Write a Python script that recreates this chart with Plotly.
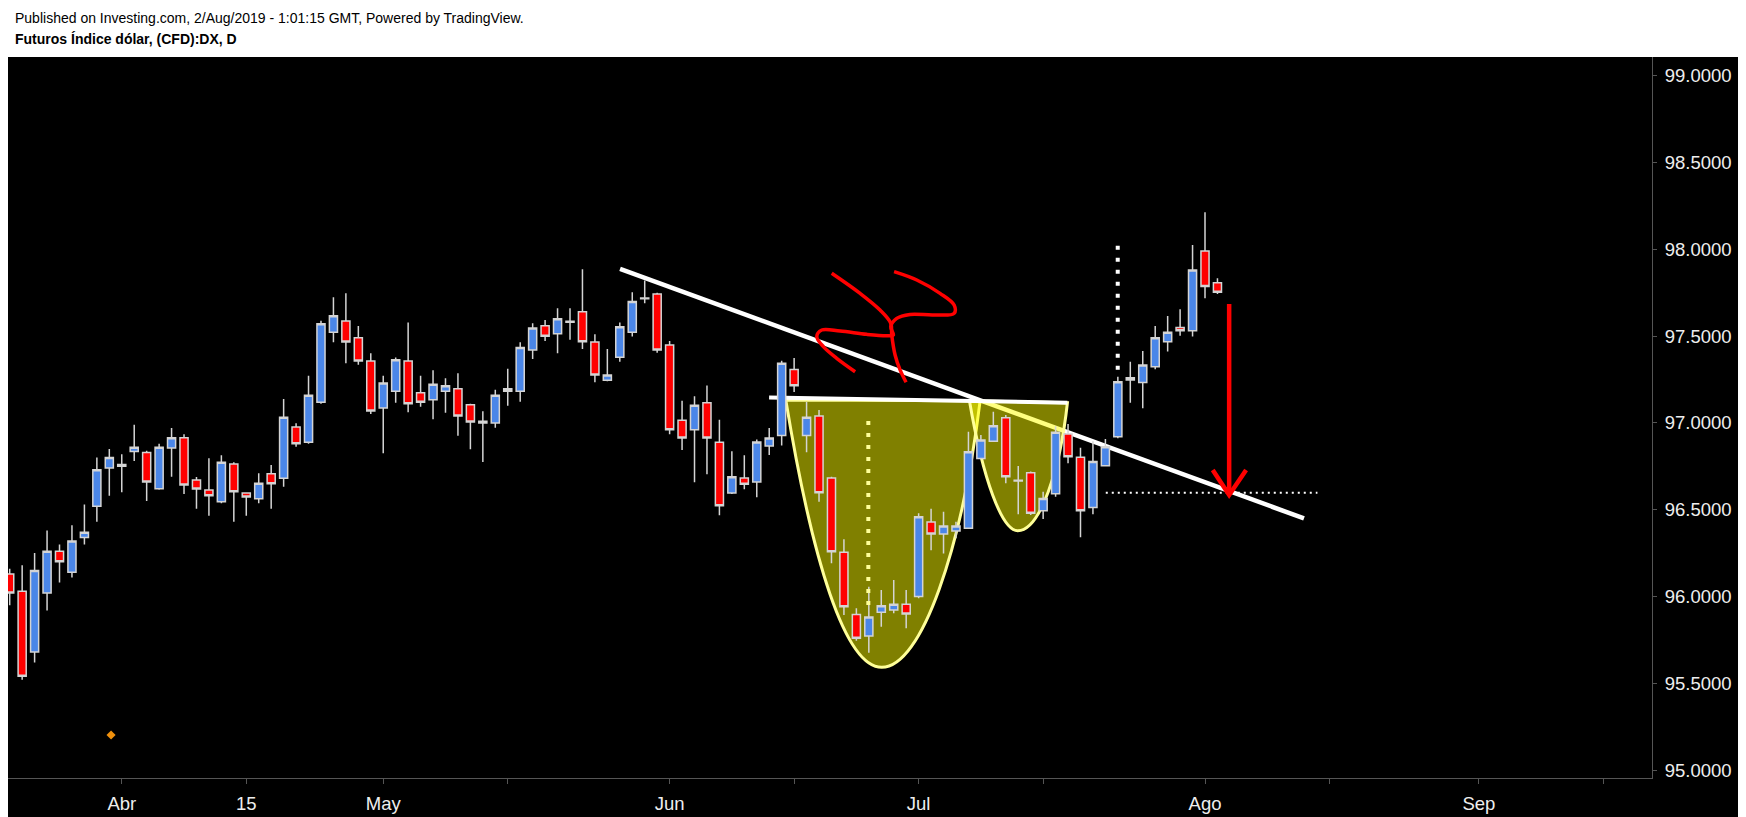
import math
import pandas as pd
import plotly.graph_objects as go

# ---------------- data ----------------
HOLIDAYS = ["2019-04-19"]
dates = [d.strftime("%Y-%m-%d") for d in pd.bdate_range("2019-03-19", "2019-08-02")
         if d.strftime("%Y-%m-%d") not in HOLIDAYS]

open_ = [96.13, 96.03, 95.68, 96.02, 96.26, 96.14, 96.34, 96.52, 96.74, 96.75,
         96.835, 96.83, 96.62, 96.855, 96.915, 96.671, 96.613, 96.546, 96.763, 96.596,
         96.563, 96.707, 96.681, 96.976, 96.888, 97.119, 97.522, 97.587, 97.491, 97.357,
         97.086, 97.182, 97.357, 97.174, 97.134, 97.182, 97.197, 97.105, 97.00, 96.999,
         97.182, 97.182, 97.42, 97.56, 97.514, 97.58, 97.64, 97.466, 97.245, 97.378,
         97.522, 97.715, 97.743, 97.449, 97.015, 96.961, 97.116, 96.888, 96.596, 96.683,
         96.66, 96.867, 96.927, 97.308, 96.927, 97.04, 96.683, 96.255, 95.897, 95.772,
         95.909, 95.922, 95.955, 96.0, 96.429, 96.36, 96.377, 96.393, 96.795, 96.895,
         97.03, 96.665, 96.713, 96.494, 96.592, 96.936, 96.802, 96.512, 96.753, 96.92,
         97.247, 97.232, 97.324, 97.468, 97.55, 97.531, 97.99, 97.808]
high = [96.16, 96.18, 96.25, 96.38, 96.30, 96.41, 96.53, 96.80, 96.85, 96.82,
        96.99, 96.84, 96.88, 96.97, 96.934, 96.688, 96.796, 96.813, 96.773, 96.60,
        96.71, 96.757, 97.138, 96.998, 97.272, 97.589, 97.724, 97.747, 97.558, 97.401,
        97.272, 97.376, 97.579, 97.272, 97.303, 97.257, 97.286, 97.11, 97.067, 97.191,
        97.312, 97.464, 97.574, 97.593, 97.66, 97.66, 97.885, 97.51, 97.426, 97.579,
        97.752, 97.82, 97.75, 97.472, 97.128, 97.153, 97.216, 97.018, 96.836, 96.813,
        96.905, 96.97, 97.358, 97.374, 97.12, 97.074, 96.69, 96.33, 95.932, 96.056,
        96.037, 96.095, 96.037, 96.479, 96.505, 96.488, 96.431, 96.949, 96.93, 97.064,
        97.046, 96.752, 96.72, 96.603, 96.98, 96.994, 96.857, 96.895, 96.907, 97.266,
        97.352, 97.414, 97.558, 97.616, 97.654, 98.025, 98.213, 97.833]
low = [95.95, 95.52, 95.62, 95.92, 96.08, 96.11, 96.30, 96.43, 96.58, 96.60,
       96.78, 96.55, 96.615, 96.69, 96.59, 96.506, 96.465, 96.537, 96.431, 96.465,
       96.537, 96.506, 96.632, 96.863, 96.88, 97.11, 97.464, 97.343, 97.335, 97.051,
       96.825, 97.116, 97.061, 97.093, 97.021, 97.059, 96.926, 96.848, 96.775, 96.972,
       97.099, 97.122, 97.368, 97.472, 97.401, 97.479, 97.426, 97.234, 97.24, 97.352,
       97.497, 97.689, 97.404, 96.934, 96.844, 96.658, 96.704, 96.468, 96.59, 96.618,
       96.571, 96.815, 96.87, 97.178, 96.831, 96.546, 96.191, 95.893, 95.745, 95.676,
       95.826, 95.903, 95.817, 95.99, 96.267, 96.248, 96.335, 96.39, 96.792, 96.89,
       96.652, 96.474, 96.47, 96.446, 96.575, 96.767, 96.342, 96.474, 96.75, 96.911,
       97.116, 97.084, 97.309, 97.411, 97.502, 97.497, 97.718, 97.743]
close = [96.02, 95.54, 96.15, 96.26, 96.20, 96.32, 96.37, 96.73, 96.80, 96.76,
         96.86, 96.66, 96.86, 96.915, 96.642, 96.619, 96.581, 96.773, 96.604, 96.573,
         96.652, 96.649, 97.032, 96.88, 97.159, 97.571, 97.617, 97.466, 97.357, 97.069,
         97.23, 97.364, 97.11, 97.119, 97.222, 97.214, 97.04, 97.005, 97.01, 97.159,
         97.197, 97.435, 97.547, 97.499, 97.60, 97.585, 97.468, 97.276, 97.276, 97.554,
         97.70, 97.72, 97.42, 96.961, 96.913, 97.101, 96.913, 96.523, 96.69, 96.646,
         96.89, 96.913, 97.343, 97.214, 97.032, 96.598, 96.258, 95.941, 95.759, 95.882,
         95.947, 95.955, 95.899, 96.459, 96.36, 96.406, 96.406, 96.834, 96.901, 96.983,
         96.69, 96.67, 96.479, 96.565, 96.946, 96.805, 96.494, 96.777, 96.863, 97.237,
         97.26, 97.333, 97.491, 97.522, 97.531, 97.881, 97.785, 97.752]

TICK_DATES = ["2019-04-01", "2019-04-15", "2019-05-01", "2019-05-15", "2019-06-03", "2019-06-17",
              "2019-07-01", "2019-07-15", "2019-08-01", "2019-08-15", "2019-09-02", "2019-09-16"]
TICK_TEXT = ["Abr", "15", "May", "", "Jun", "", "Jul", "", "Ago", "", "Sep", ""]
Y_TICKS = [95.0, 95.5, 96.0, 96.5, 97.0, 97.5, 98.0, 98.5, 99.0]

TITLE_1 = "Published on Investing.com, 2/Aug/2019 - 1:01:15 GMT, Powered by TradingView."
TITLE_2 = "Futuros Índice dólar, (CFD):DX, D"

# drawings (bar index, price)
X_RANGE = [-0.137, 131.9]
Y_RANGE = [94.9545, 99.1077]
TREND = [(49.02, 97.887), (103.95, 96.45)]
NECK = [(60.99, 97.147), (84.95, 97.116)]
BIG_CUP = [(62.33, 97.132), (64.44, 96.21), (67.09, 95.592), (70.04, 95.592),
           (73.25, 95.592), (76.49, 96.28), (77.94, 97.128)]
SMALL_CUP = [(77.08, 97.128), (78.18, 96.671), (79.70, 96.379), (80.96, 96.379),
             (82.75, 96.379), (84.36, 96.729), (84.95, 97.116)]
CUP_DOTS = [(68.96, 95.951), (68.96, 97.055)]
TOP_DOTS = [(88.99, 97.266), (88.99, 98.021)]
H_DOTS = [(88.03, 96.598), (105.03, 96.598)]
ARROW = [(97.94, 97.685), (97.94, 96.59)]
ARROW_HEAD = [(96.62, 96.729), (97.94, 96.585), (99.3, 96.729)]
SQUIG_A = [(66.02, 97.862), (68.30, 97.746), (69.90, 97.650), (70.76, 97.574), (70.84, 97.506),
           (71.11, 97.391), (71.51, 97.305), (71.99, 97.234)]
SQUIG_B = [(71.03, 97.871), (72.85, 97.823), (74.72, 97.746), (75.85, 97.679), (75.85, 97.631),
           (74.18, 97.622), (72.31, 97.625), (71.24, 97.602), (70.76, 97.554), (70.97, 97.506),
           (70.44, 97.502), (68.83, 97.510), (66.69, 97.529), (65.22, 97.535), (64.82, 97.497),
           (65.35, 97.439), (66.42, 97.372), (67.90, 97.295)]
MARKER = (8.14, 95.202)

# ---------------- helpers ----------------
axis_days = [d for d in pd.bdate_range("2019-03-18", "2019-10-11")
             if d.strftime("%Y-%m-%d") not in HOLIDAYS]


def t(i, sep=" "):
    k = math.floor(i)
    d = axis_days[k + 1] + pd.Timedelta(days=i - k)
    return d.strftime("%Y-%m-%d") + sep + d.strftime("%H:%M:%S")


def cup_path(p):
    s = "M {},{} ".format(t(p[0][0], "_"), p[0][1])
    s += "C {},{} {},{} {},{} ".format(t(p[1][0], "_"), p[1][1], t(p[2][0], "_"), p[2][1], t(p[3][0], "_"), p[3][1])
    s += "C {},{} {},{} {},{} ".format(t(p[4][0], "_"), p[4][1], t(p[5][0], "_"), p[5][1], t(p[6][0], "_"), p[6][1])
    s += "Z"
    return s


FONT = "Arial, 'Liberation Sans', sans-serif"
AX_COLOR = "#555555"
LBL_COLOR = "#eeeeee"

# The page body has an 8px default margin; the figure is sized so that it
# ends flush with the 1746x817 window.
FIG_W, FIG_H = 1738, 809
M_L, M_R, M_T, M_B = 0, 94, 49, 39
PLOT_W = FIG_W - M_L - M_R
PLOT_H = FIG_H - M_T - M_B

fig = go.Figure()
fig.add_trace(go.Candlestick(
    x=dates, open=open_, high=high, low=low, close=close,
    increasing=dict(fillcolor="#4a86e8", line=dict(color="#d4d4d4", width=1.5)),
    decreasing=dict(fillcolor="#ff0000", line=dict(color="#d4d4d4", width=1.5)),
    whiskerwidth=0, hoverinfo="skip", showlegend=False))

for sq in (SQUIG_A, SQUIG_B):
    fig.add_trace(go.Scatter(x=[t(a) for a, _ in sq], y=[b for _, b in sq], mode="lines",
                             line=dict(color="#ff0000", width=3.5, shape="spline", smoothing=1.0),
                             hoverinfo="skip", showlegend=False))

fig.add_trace(go.Scatter(x=[t(MARKER[0])], y=[MARKER[1]], mode="markers",
                         marker=dict(symbol="diamond", size=7, color="#f0900c"),
                         hoverinfo="skip", showlegend=False))

shapes = [
    dict(type="rect", xref="paper", yref="paper", x0=0, x1=(FIG_W - 8 - M_L) / PLOT_W, y0=-M_B / PLOT_H, y1=1,
         fillcolor="black", line=dict(width=0), layer="below"),
    dict(type="line", xref="x", yref="y", x0=t(TREND[0][0]), y0=TREND[0][1], x1=t(TREND[1][0]), y1=TREND[1][1],
         line=dict(color="white", width=4.5), layer="below"),
    dict(type="path", xref="x", yref="y", path=cup_path(BIG_CUP), fillcolor="rgba(255,255,0,0.5)",
         line=dict(color="#ffff99", width=3), layer="below"),
    dict(type="path", xref="x", yref="y", path=cup_path(SMALL_CUP), fillcolor="rgba(255,255,0,0.5)",
         line=dict(color="#ffff99", width=3), layer="below"),
    dict(type="line", xref="x", yref="y", x0=t(NECK[0][0]), y0=NECK[0][1], x1=t(NECK[1][0]), y1=NECK[1][1],
         line=dict(color="white", width=4), layer="below"),
    dict(type="line", xref="x", yref="y", x0=t(CUP_DOTS[0][0]), y0=CUP_DOTS[0][1], x1=t(CUP_DOTS[1][0]), y1=CUP_DOTS[1][1],
         line=dict(color="#ffff99", width=4, dash="4px,8px"), layer="above"),
    dict(type="line", xref="x", yref="y", x0=t(TOP_DOTS[0][0]), y0=TOP_DOTS[1][1], x1=t(TOP_DOTS[1][0]), y1=TOP_DOTS[0][1],
         line=dict(color="white", width=4, dash="4px,8px"), layer="above"),
    dict(type="line", xref="x", yref="y", x0=t(H_DOTS[0][0]), y0=H_DOTS[0][1], x1=t(H_DOTS[1][0]), y1=H_DOTS[1][1],
         line=dict(color="white", width=2, dash="2px,4px"), layer="above"),
    dict(type="line", xref="x", yref="y", x0=t(ARROW[0][0]), y0=ARROW[0][1], x1=t(ARROW[1][0]), y1=ARROW[1][1],
         line=dict(color="#ff0000", width=4.5), layer="above"),
    dict(type="path", xref="x", yref="y",
         path="M {},{} L {},{} L {},{}".format(t(ARROW_HEAD[0][0], "_"), ARROW_HEAD[0][1],
                                               t(ARROW_HEAD[1][0], "_"), ARROW_HEAD[1][1],
                                               t(ARROW_HEAD[2][0], "_"), ARROW_HEAD[2][1]),
         line=dict(color="#ff0000", width=4.5), layer="above"),
]

fig.update_layout(
    width=FIG_W, height=FIG_H,
    margin=dict(l=M_L, r=M_R, t=M_T, b=M_B, pad=0, autoexpand=False),
    paper_bgcolor="white", plot_bgcolor="black",
    showlegend=False, hovermode=False,
    boxgap=0.35, boxgroupgap=0,
    shapes=shapes,
    xaxis=dict(type="date", range=[t(X_RANGE[0]), t(X_RANGE[1])],
               rangebreaks=[dict(bounds=["sat", "mon"]), dict(values=HOLIDAYS)],
               rangeslider=dict(visible=False),
               tickmode="array", tickvals=TICK_DATES, ticktext=TICK_TEXT,
               ticks="outside", ticklen=5, tickcolor=AX_COLOR, tickwidth=1,
               showline=True, linecolor=AX_COLOR, linewidth=1,
               showgrid=False, zeroline=False, ticklabelstandoff=4,
               tickfont=dict(family=FONT, size=18.5, color=LBL_COLOR)),
    yaxis=dict(side="right", range=Y_RANGE, tickmode="array", tickvals=Y_TICKS,
               tickformat=".4f", ticks="outside", ticklen=4, tickcolor=AX_COLOR, tickwidth=1,
               showline=True, linecolor=AX_COLOR, linewidth=1,
               showgrid=False, zeroline=False, ticklabelstandoff=4,
               tickfont=dict(family=FONT, size=18.5, color=LBL_COLOR)),
    annotations=[
        dict(text=TITLE_1, xref="paper", yref="paper", x=0, y=1, xanchor="left", yanchor="middle",
             xshift=5, yshift=39, showarrow=False, font=dict(family=FONT, size=14, color="black")),
        dict(text="<b>" + TITLE_2 + "</b>", xref="paper", yref="paper", x=0, y=1, xanchor="left",
             yanchor="middle", xshift=5, yshift=18.5, showarrow=False,
             font=dict(family=FONT, size=14, color="black")),
    ],
)

fig.write_html("out.html")
